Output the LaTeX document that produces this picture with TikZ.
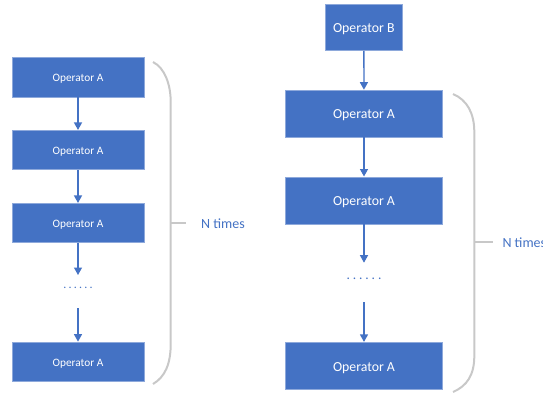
\documentclass[tikz,border=0pt]{standalone}
\usepackage{fontspec}
\setmainfont{Carlito}
\usetikzlibrary{arrows.meta}
\definecolor{opblue}{HTML}{4472C4}
\definecolor{opedge}{HTML}{8EA9DB}
\definecolor{brgray}{HTML}{C8C8C8}
\tikzset{
  opbox/.style={rectangle, fill=opblue, draw=opedge, line width=0.6pt, text=white, inner sep=0pt},
  smallbox/.style={opbox, minimum width=132pt, minimum height=39.5pt, font=\fontsize{11.3}{13}\selectfont},
  bigbox/.style={opbox, minimum width=157pt, minimum height=47pt, font=\fontsize{13.8}{16}\selectfont},
  flow/.style={draw=opblue, line width=1.3pt, -{Triangle[width=8pt,length=7.5pt]}},
  brace/.style={draw=brgray, line width=2pt},
  ntimes/.style={text=opblue, font=\fontsize{14}{16}\selectfont, anchor=west, inner sep=0pt},
  dotsnode/.style={text=opblue, inner sep=0pt}
}
\newcommand{\sixdots}[1]{.\hspace{#1}.\hspace{#1}.\hspace{#1}.\hspace{#1}.\hspace{#1}.}
\newcommand{\optext}[1]{\raisebox{-0.39em}[0pt][0pt]{#1}}
\begin{document}
\begin{tikzpicture}[x=1pt,y=-1pt]
\useasboundingbox (0,0) rectangle (543,394);
% left column
\node[smallbox] (la1) at (78,77.3) {\optext{Operator A}};
\node[smallbox] (la2) at (78,150) {\optext{Operator A}};
\node[smallbox] (la3) at (78,223) {\optext{Operator A}};
\node[dotsnode, font=\fontsize{12}{13}\selectfont] (ldots) at (78,288) {\sixdots{2.2pt}};
\node[smallbox] (la4) at (78,361.7) {\optext{Operator A}};
\coordinate (lc1) at (78,275);
\coordinate (lc2) at (78,308);
\draw[flow] (la1) -- (la2);
\draw[flow] (la2) -- (la3);
\draw[flow] (la3) -- (lc1);
\draw[flow] (lc2) -- (la4);
% left brace
\coordinate (lbt) at (153,62);
\coordinate (lbb) at (153,384);
\coordinate (lbm) at (170.7,223);
\coordinate (lbk) at (186,223);
\draw[brace] (lbt) .. controls (165,68) and (170.7,85) .. (170.7,102) -- (170.7,344) .. controls (170.7,364) and (165,377) .. (lbb);
\draw[brace] (lbm) -- (lbk);
\node[ntimes] (ln) at (201,223) {\optext{N times}};
% right column
\node[opbox, minimum width=77pt, minimum height=46.7pt, font=\fontsize{13.8}{16}\selectfont] (rb) at (363.8,27.3) {\optext{Operator B}};
\node[bigbox] (ra1) at (364,113.5) {\optext{Operator A}};
\node[bigbox] (ra2) at (364,200.3) {\optext{Operator A}};
\node[dotsnode, font=\fontsize{13.5}{15}\selectfont] (rdots) at (364,278.5) {\sixdots{2.9pt}};
\node[bigbox] (ra3) at (364,365.7) {\optext{Operator A}};
\coordinate (rc1) at (364,262.7);
\coordinate (rc2) at (364,302);
\draw[flow] (rb) -- (ra1);
\draw[flow] (ra1) -- (ra2);
\draw[flow] (ra2) -- (rc1);
\draw[flow] (rc2) -- (ra3);
% right brace
\coordinate (rbt) at (453,94);
\coordinate (rbb) at (453,392);
\coordinate (rbm) at (474.3,242.3);
\coordinate (rbk) at (493,242.3);
\draw[brace] (rbt) .. controls (467,100) and (474.3,113) .. (474.3,132) -- (474.3,356) .. controls (474.3,375) and (467,386) .. (rbb);
\draw[brace] (rbm) -- (rbk);
\node[ntimes] (rn) at (502.3,242.3) {\optext{N times}};
\end{tikzpicture}
\end{document}
